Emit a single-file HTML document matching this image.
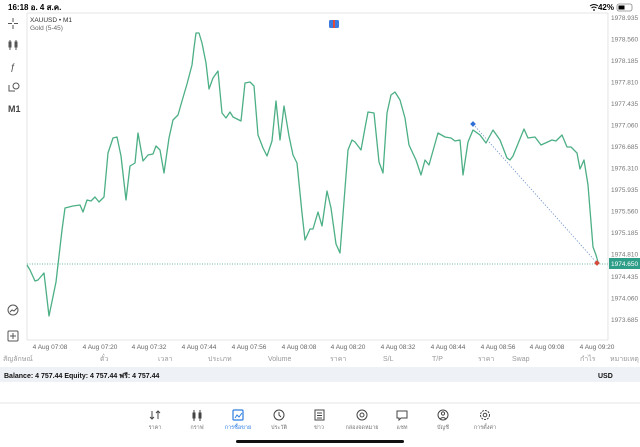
<!DOCTYPE html>
<html><head><meta charset="utf-8"><style>
body{margin:0;width:640px;height:447px;background:#fff;overflow:hidden;font-family:"Liberation Sans","Noto Sans CJK SC",sans-serif}
svg{position:absolute;left:0;top:0}
</style></head><body>
<svg width="640" height="447" viewBox="0 0 640 447" font-family="Liberation Sans, Noto Sans CJK SC, sans-serif">
<text x="8" y="10" font-size="8" font-weight="bold" fill="#000">16:18  อ. 4 ส.ค.</text>
<text x="614" y="10" font-size="8" font-weight="bold" text-anchor="end" fill="#000">42%</text>
<rect x="617" y="4" width="15" height="7" rx="2" fill="none" stroke="#888" stroke-width="0.8"/><rect x="618.5" y="5.5" width="6" height="4" fill="#000"/>
<path d="M590 6 q4 -3 8 0 M591.5 8 q2.5 -2 5 0" stroke="#000" fill="none" stroke-width="1"/><circle cx="594" cy="10" r="0.9" fill="#000"/>
<line x1="27" y1="13" x2="608" y2="13" stroke="#ddd" stroke-width="0.8"/>
<line x1="27" y1="13" x2="27" y2="340" stroke="#ddd" stroke-width="0.8"/>
<line x1="608" y1="13" x2="608" y2="340" stroke="#ddd" stroke-width="0.8"/>
<line x1="27" y1="340" x2="608" y2="340" stroke="#ddd" stroke-width="0.8"/>
<text x="30" y="22" font-size="6.5" fill="#333">XAUUSD • M1</text>
<text x="30" y="30" font-size="6.5" fill="#666">Gold (5-45)</text>
<rect x="329" y="20" width="10" height="8" rx="1.5" fill="#3a7be0"/><rect x="333" y="20" width="2" height="8" fill="#e04a3a"/>
<g fill="#444" font-size="9">
<text x="8" y="112" font-weight="bold">M1</text>
<text x="10" y="70" font-style="italic">ƒ</text>
</g>
<g stroke="#555" fill="none" stroke-width="1">
<path d="M13 18v4M13 25v4M8 23.5h4M14 23.5h4"/>
<path d="M10 40v10M16 40v10"/><rect x="9" y="42" width="2" height="5" fill="#555"/><rect x="15" y="42" width="2" height="5"/>
<circle cx="16" cy="86" r="3"/><path d="M9 85v6h6"/>
<circle cx="13" cy="310" r="5"/><path d="M10 312l2-2 2 1 3-3"/>
<rect x="8" y="331" width="10" height="10" rx="1"/><path d="M13 333v6M10 336h6"/>
</g>
<line x1="27" y1="264" x2="608" y2="264" stroke="#3aa387" stroke-width="0.8" stroke-dasharray="1,1.5"/>
<line x1="473" y1="124" x2="597" y2="263" stroke="#6b8fc8" stroke-width="0.7" stroke-dasharray="1.5,1.5"/>
<polyline fill="none" stroke="#4caf85" stroke-width="1.3" stroke-linejoin="round" points="27,265 30,270 35,281 38,280 44,273 49,316 56,282 62,230 65,208 73,206 80,205 83,212 87,200 91,201 95,197 99,202 104,197 108,153 113,138 117,137 121,156 126,200 130,166 135,163 138,133 143,161 148,155 153,154 156,146 160,150 164,173 169,138 173,120 178,115 182,101 187,84 192,65 194,48 196,33 199,33 202,43 206,63 209,89 213,78 218,71 222,113 226,118 230,112 233,117 241,121 245,83 250,82 254,86 258,135 263,148 267,156 272,141 276,101 280,140 284,106 289,136 293,155 297,163 302,213 305,240 310,229 313,229 318,212 322,226 327,191 331,208 336,244 340,253 348,150 352,140 355,142 361,150 365,128 368,112 374,113 379,162 383,173 387,113 391,95 395,92 400,100 405,118 409,145 416,160 421,175 425,160 429,165 438,133 445,137 451,138 455,141 460,140 463,175 468,142 473,130 480,135 486,143 493,130 500,140 507,158 510,160 513,156 524,129 528,138 535,137 541,145 552,140 556,141 562,135 567,147 571,147 577,153 580,169 584,160 588,185 593,247 596,255 598,262"/>
<rect x="471" y="122" width="4" height="4" fill="#2f6fd6" transform="rotate(45 473 124)"/>
<rect x="595" y="261" width="4" height="4" fill="#d64a3a" transform="rotate(45 597 263)"/>
<g font-size="6.5" fill="#777">
<text x="611" y="20">1978.935</text><text x="611" y="41.5">1978.560</text><text x="611" y="63">1978.185</text><text x="611" y="84.5">1977.810</text><text x="611" y="106">1977.435</text><text x="611" y="127.5">1977.060</text><text x="611" y="149">1976.685</text><text x="611" y="170.5">1976.310</text><text x="611" y="192">1975.935</text><text x="611" y="213.5">1975.560</text><text x="611" y="235">1975.185</text><text x="611" y="256.5">1974.810</text><text x="611" y="279">1974.435</text><text x="611" y="300.5">1974.060</text><text x="611" y="322">1973.685</text>
</g>
<rect x="609" y="258" width="31" height="11" fill="#2e9e88"/>
<text x="611" y="266" font-size="6.5" fill="#fff">1974.650</text>
<g font-size="6.5" fill="#666" text-anchor="middle">
<text x="50" y="349">4 Aug 07:08</text><text x="100" y="349">4 Aug 07:20</text><text x="149" y="349">4 Aug 07:32</text><text x="199" y="349">4 Aug 07:44</text><text x="249" y="349">4 Aug 07:56</text><text x="299" y="349">4 Aug 08:08</text><text x="348" y="349">4 Aug 08:20</text><text x="398" y="349">4 Aug 08:32</text><text x="448" y="349">4 Aug 08:44</text><text x="498" y="349">4 Aug 08:56</text><text x="547" y="349">4 Aug 09:08</text><text x="597" y="349">4 Aug 09:20</text>
</g>
<g font-size="7" fill="#999">
<text x="3" y="361">สัญลักษณ์</text><text x="100" y="361">ตั๋ว</text><text x="158" y="361">เวลา</text><text x="208" y="361">ประเภท</text><text x="268" y="361">Volume</text><text x="330" y="361">ราคา</text><text x="383" y="361">S/L</text><text x="432" y="361">T/P</text><text x="478" y="361">ราคา</text><text x="512" y="361">Swap</text><text x="580" y="361">กำไร</text><text x="610" y="361">หมายเหตุ</text>
</g>
<rect x="0" y="367" width="640" height="15" fill="#eef1f6"/>
<text x="4" y="378" font-size="7" font-weight="bold" fill="#111">Balance: 4 757.44 Equity: 4 757.44 ฟรี: 4 757.44</text>
<text x="598" y="378" font-size="7" font-weight="bold" fill="#111">USD</text>
<line x1="0" y1="403" x2="640" y2="403" stroke="#e5e5e5" stroke-width="1"/>
<g stroke="#444" fill="none" stroke-width="1">
<path d="M152 411v8M150 417l2 2 2-2M158 419v-8M156 413l2-2 2 2"/>
<path d="M194 410v11M200 410v11"/><rect x="193" y="413" width="2" height="5" fill="#444"/><rect x="199" y="413" width="2" height="5"/>
<circle cx="279" cy="415" r="5"/><path d="M279 412v3l2 2"/>
<rect x="315" y="410" width="9" height="10"/><path d="M317 413h5M317 415.5h5M317 418h5"/>
<circle cx="362" cy="415" r="5"/><circle cx="362" cy="415" r="2"/>
<path d="M397 411h10v7h-6l-2 2v-2h-2z"/>
<circle cx="443" cy="415" r="5"/><circle cx="443" cy="413.5" r="1.6"/><path d="M440 419q3-3 6 0"/>
<circle cx="485" cy="415" r="4.5" stroke-dasharray="2,1"/><circle cx="485" cy="415" r="1.8"/>
</g>
<rect x="233" y="410" width="10" height="10" rx="1" fill="none" stroke="#2f7de0" stroke-width="1.2"/><path d="M235 418l2-3 2 2 3-4" stroke="#2f7de0" fill="none" stroke-width="1"/>
<g font-size="5.5" fill="#777" text-anchor="middle">
<text x="155" y="429">ราคา</text><text x="197" y="429">กราฟ</text><text x="238" y="429" fill="#2f7de0">การซื้อขาย</text><text x="279" y="429">ประวัติ</text><text x="319" y="429">ข่าว</text><text x="362" y="429">กล่องจดหมาย</text><text x="402" y="429">แชท</text><text x="443" y="429">บัญชี</text><text x="485" y="429">การตั้งค่า</text>
</g>
<rect x="236" y="440" width="168" height="3" rx="1.5" fill="#111"/>
</svg>
</body></html>
